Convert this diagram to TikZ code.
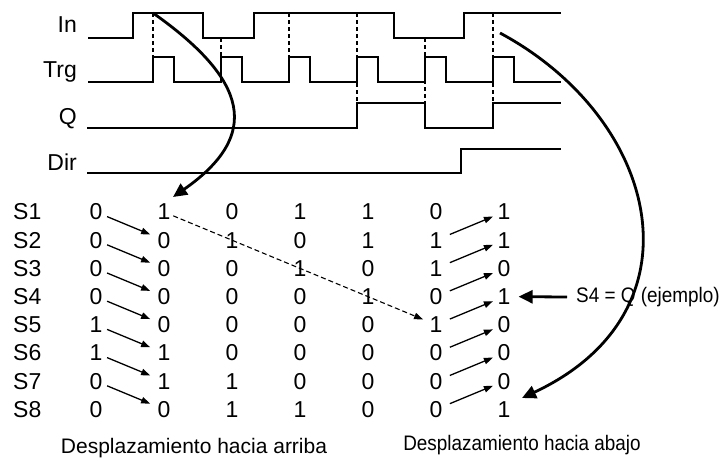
\documentclass[tikz,border=0pt]{standalone}
\usepackage{fontspec}
\setmainfont{Liberation Sans}
\newfontfamily\narrowfont{Liberation Sans}[FakeStretch=0.9]
\usetikzlibrary{arrows.meta}

\tikzset{
  wave/.style={line width=1.4pt},
  guide/.style={line width=1.1pt, dash pattern=on 4pt off 3pt},
  bit/.style={inner sep=0pt, font=\fontsize{23}{27}\selectfont},
  movearrow/.style={line width=1.3pt, -{Triangle[length=9pt,width=6.5pt]}},
  bigarrow/.style={line width=2.8pt, -{Triangle[length=14pt,width=13pt]}},
}

\begin{document}
\begin{tikzpicture}[x=1pt,y=-1pt]
\useasboundingbox (0,0) rectangle (720,458);

% signal names
\node[bit, anchor=base east] (lin) at (77,32) {In};
\node[bit, anchor=base east] (ltrg) at (77,77) {Trg};
\node[bit, anchor=base east] (lq) at (77,124) {Q};
\node[bit, anchor=base east] (ldir) at (77,170) {Dir};

% waveforms
\draw[wave] (88,38) -- (133,38) -- (133,13) -- (203,13) -- (203,38) -- (254,38)
  -- (254,13) -- (394,13) -- (394,38) -- (464,38) -- (464,13) -- (561,13);
\draw[wave] (88,82) \foreach \p in {153,221,289,357,425,493} {
  -- (\p,82) -- (\p,57) -- (\p+21,57) -- (\p+21,82) } -- (561,82);
\draw[wave] (87,128) -- (357,128) -- (357,103) -- (425,103) -- (425,128)
  -- (493,128) -- (493,103) -- (561,103);
\draw[wave] (87,173) -- (461,173) -- (461,149) -- (561,149);

% dashed guides
\foreach \x/\a/\b in {153/13/57, 221/38/57, 289/13/57, 357/13/103, 425/38/128, 493/13/103}
  \draw[guide] (\x,\a) -- (\x,\b);

% register table
\foreach \r in {1,...,8} {
  \pgfmathsetmacro{\yy}{212+28.2*(\r-1)}
  \node[bit, anchor=west] (s\r) at (13,\yy) {S\r};
}
\foreach \c/\vals in {0/{0,0,0,0,1,1,0,0}, 1/{1,0,0,0,0,1,1,0}, 2/{0,1,0,0,0,0,1,1},
    3/{1,0,1,0,0,0,0,1}, 4/{1,1,0,1,0,0,0,0}, 5/{0,1,1,0,1,0,0,0}, 6/{1,1,0,1,0,0,0,1}} {
  \foreach \v [count=\r] in \vals {
    \pgfmathsetmacro{\yy}{212+28.2*(\r-1)}
    \node[bit] (d\c-\r) at ({96+68*\c},\yy) {\v};
  }
}

% shift arrows
\foreach \r [evaluate=\r as \n using int(\r+1)] in {1,...,7} {
  \draw[movearrow, shorten <=12pt, shorten >=15pt] (d0-\r.center) -- (d1-\n.center);
  \draw[movearrow, shorten <=15pt, shorten >=12pt] (d5-\n.center) -- (d6-\r.center);
}
\draw[guide, dash pattern=on 5pt off 3pt, -{Triangle[length=9pt,width=6.5pt]},
  shorten <=10pt, shorten >=14pt] (d1-1.center) -- (d5-5.center);

% curved arrows
\coordinate (upstart) at (153,13);
\coordinate (upend) at (173,197);
\coordinate (downstart) at (500,33);
\coordinate (downend) at (522,398);
\draw[bigarrow] (upstart) .. controls (248,80) and (262,135) .. (upend);
\draw[bigarrow] (downstart) .. controls (660,119) and (706,312) .. (downend);

% output note
\node[anchor=base west, inner sep=0pt, font=\narrowfont\fontsize{21}{25}\selectfont] (s4lbl) at (576,302.5) {S4 = Q (ejemplo)};
\draw[bigarrow, shorten <=9pt, shorten >=8pt] (s4lbl.west) -- (d6-4.east);

% captions
\node[anchor=base, inner sep=0pt, font=\fontsize{21}{25}\selectfont] (upcap) at (194,453) {Desplazamiento hacia arriba};
\node[anchor=base, inner sep=0pt, font=\narrowfont\fontsize{21}{25}\selectfont] (downcap) at (522,450) {Desplazamiento hacia abajo};
\end{tikzpicture}
\end{document}
